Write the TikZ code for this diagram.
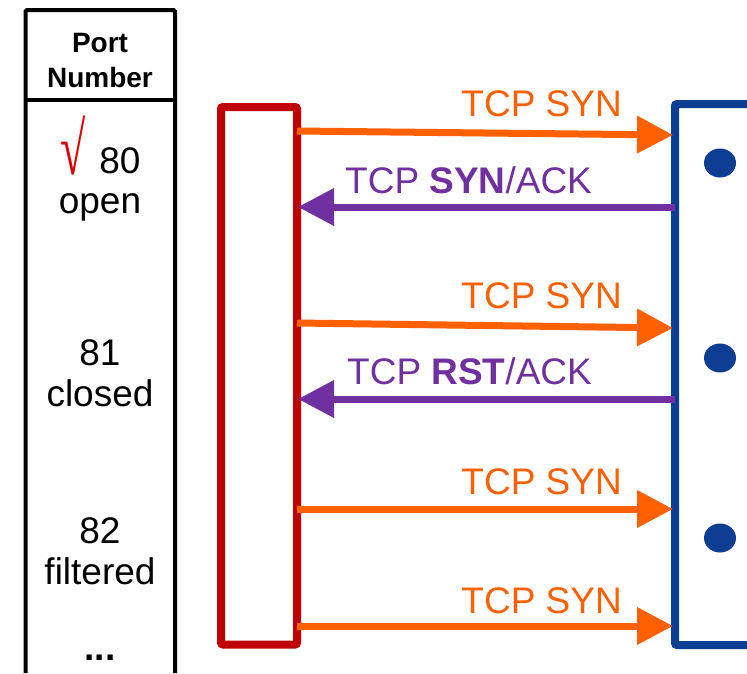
\documentclass[tikz,border=0pt]{standalone}
\usepackage{fontspec}
\usepackage{graphicx}
\setmainfont{Liberation Sans}
\newfontfamily\symfont{Liberation Serif}
\usetikzlibrary{arrows.meta,shapes.geometric}
\definecolor{synorange}{RGB}{255,96,0}
\definecolor{ackpurple}{RGB}{112,48,160}
\definecolor{clientred}{RGB}{192,0,0}
\definecolor{serverblue}{RGB}{12,62,148}
\begin{document}
\begin{tikzpicture}[x=1pt,y=-1pt,
  lbl/.style={inner sep=0pt, font=\fontsize{37}{40}\selectfont},
  hdr/.style={inner sep=0pt, font=\fontsize{28}{32}\selectfont\bfseries},
  synarrow/.style={draw=synorange, line width=7pt, -{Triangle[length=36pt,width=36pt]}},
  ackarrow/.style={draw=ackpurple, line width=7pt, -{Triangle[length=36pt,width=36pt]}},
  portdot/.style={ellipse, fill=serverblue, minimum width=32pt, minimum height=29pt, inner sep=0pt},
  tableline/.style={line width=4pt, rounded corners=1.5pt}
]
\useasboundingbox (0,0) rectangle (747,673);
\fill[white] (0,0) rectangle (747,673);

% table
\draw[tableline] (25.5,673) -- (25.5,10) -- (175,10) -- (175,673);
\draw[line width=4pt] (25.5,100) -- (175,100);
\node[hdr, anchor=base] (hport) at (100,52) {Port};
\node[hdr, anchor=base] (hnum) at (100,87) {Number};

\node[inner sep=0pt, anchor=base, text=red!85!black, font=\fontsize{40}{44}\selectfont\symfont] (check) at (73.5,174) {\scalebox{1.15}[1.85]{√}};
\node[lbl, anchor=base] (p80) at (120,173) {80};
\node[lbl, anchor=base] (s80) at (100,213) {open};
\node[lbl, anchor=base] (p81) at (100,365) {81};
\node[lbl, anchor=base] (s81) at (100,406) {closed};
\node[lbl, anchor=base] (p82) at (100,543) {82};
\node[lbl, anchor=base] (s82) at (100,584) {filtered};
\node[lbl, anchor=base, font=\fontsize{37}{40}\selectfont\bfseries] (more) at (100,660) {...};

% client box
\node[draw=clientred, line width=8pt, minimum width=76pt, minimum height=537.5pt,
      rounded corners=2pt, inner sep=0pt] (client) at (259,375.75) {};

% server box (open to the right)
\coordinate (srvTR) at (747,104);
\coordinate (srvTL) at (675,104);
\coordinate (srvBL) at (675,645);
\coordinate (srvBR) at (747,645);
\draw[serverblue, line width=8pt, rounded corners=2pt] (srvTR) -- (srvTL) -- (srvBL) -- (srvBR);

\node[portdot] (d80) at (720,163) {};
\node[portdot] (d81) at (720,358) {};
\node[portdot] (d82) at (720,538) {};

% arrow end points
\coordinate (a1s) at (297,131); \coordinate (a1e) at (673,135);
\coordinate (a2s) at (675,207); \coordinate (a2e) at (298,207);
\coordinate (a3s) at (297,323); \coordinate (a3e) at (673,328);
\coordinate (a4s) at (675,399); \coordinate (a4e) at (298,399);
\coordinate (a5s) at (297,509); \coordinate (a5e) at (673,509);
\coordinate (a6s) at (297,626); \coordinate (a6e) at (673,626);

\draw[synarrow] (a1s) -- (a1e);
\draw[ackarrow] (a2s) -- (a2e);
\draw[synarrow] (a3s) -- (a3e);
\draw[ackarrow] (a4s) -- (a4e);
\draw[synarrow] (a5s) -- (a5e);
\draw[synarrow] (a6s) -- (a6e);

% labels
\node[lbl, anchor=base east, text=synorange] (l1) at (622,116) {TCP SYN};
\node[lbl, anchor=base west, text=ackpurple] (l2) at (345,193) {TCP \textbf{SYN}/ACK};
\node[lbl, anchor=base east, text=synorange] (l3) at (622,308) {TCP SYN};
\node[lbl, anchor=base west, text=ackpurple] (l4) at (347,384) {TCP \textbf{RST}/ACK};
\node[lbl, anchor=base east, text=synorange] (l5) at (622,494) {TCP SYN};
\node[lbl, anchor=base east, text=synorange] (l6) at (622,613) {TCP SYN};
\end{tikzpicture}
\end{document}
